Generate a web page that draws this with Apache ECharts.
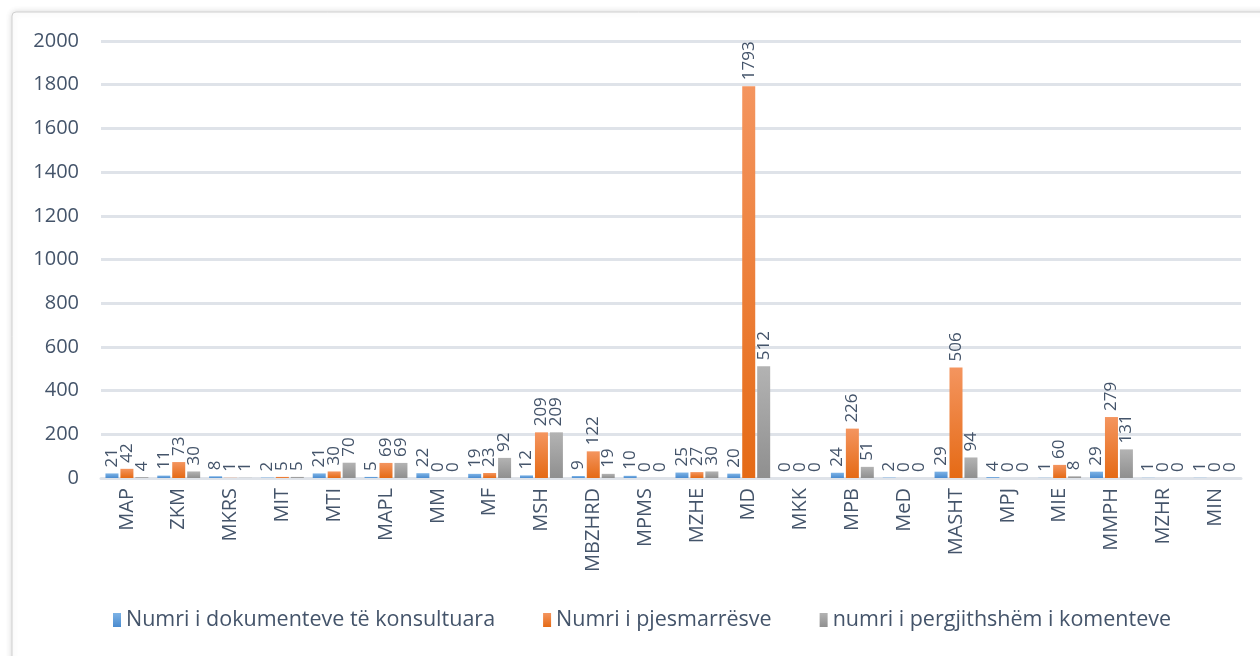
<!DOCTYPE html>
<html>
<head>
<meta charset="utf-8">
<script src="https://cdn.jsdelivr.net/npm/echarts@6/dist/echarts.min.js"></script>
<style>
  html, body { margin: 0; padding: 0; background: #fff; }
  #container { width: 1260px; height: 656px; }
</style>
</head>
<body>
<div id="container"></div>
<script>
// kategorite (ministrite)
var categories = ['MAP', 'ZKM', 'MKRS', 'MIT', 'MTI', 'MAPL', 'MM', 'MF', 'MSH', 'MBZHRD', 'MPMS',
    'MZHE', 'MD', 'MKK', 'MPB', 'MeD', 'MASHT', 'MPJ', 'MIE', 'MMPH', 'MZHR', 'MIN']

var dokumente = [21, 11, 8, 2, 21, 5, 22, 19, 12, 9, 10, 25, 20, 0, 24, 2, 29, 4, 1, 29, 1, 1]
var pjesmarres = [42, 73, 1, 5, 30, 69, 0, 23, 209, 122, 0, 27, 1793, 0, 226, 0, 506, 0, 60, 279, 0, 0]
var komente = [4, 30, 1, 5, 70, 69, 0, 92, 209, 19, 0, 30, 512, 0, 51, 0, 94, 0, 8, 131, 0, 0]

var seriesNames = ['Numri i dokumenteve të konsultuara', 'Numri i pjesmarrësve', 'numri i pergjithshëm i komenteve']

var textColor = '#44546a'
var font = "'Open Sans', 'Liberation Sans', sans-serif"

// gradient per seri
var grad = function (top, bottom) {
    return new echarts.graphic.LinearGradient(0, 0, 0, 1, [
        { offset: 0, color: top },
        { offset: 1, color: bottom },
    ])
}

var makeSeries = function (name, data, top, bottom) {
    return {
        name: name,
        type: 'bar',
        data: data,
        barWidth: 13,
        barGap: '15%',
        itemStyle: { color: grad(top, bottom) },
        label: {
            show: true,
            position: 'top',
            rotate: 90,
            align: 'left',
            verticalAlign: 'middle',
            distance: 6,
            color: textColor,
            fontSize: 17,
            fontFamily: font,
        },
    }
}

var myChart = echarts.init(document.getElementById('container'))

var option = {
    backgroundColor: '#fff',
    animation: false,
    graphic: [{
        type: 'rect',
        shape: { x: 12, y: 12, width: 1260, height: 660, r: 4 },
        style: { fill: '#fff', stroke: '#d0d0d0', lineWidth: 1, shadowBlur: 6, shadowColor: 'rgba(0,0,0,0.15)' },
        z: -10,
    }],
    grid: {
        left: 101,
        right: 19,
        top: 41,
        bottom: 178,
        containLabel: false,
    },
    legend: {
        bottom: 20,
        left: 108,
        itemWidth: 8,
        itemHeight: 14,
        itemGap: 48,
        icon: 'rect',
        textStyle: { color: textColor, fontSize: 21.5, fontFamily: font },
        data: seriesNames,
    },
    xAxis: {
        type: 'category',
        data: categories,
        axisLine: { show: true, lineStyle: { color: '#dfe3e9', width: 3 } },
        axisTick: { show: false },
        axisLabel: {
            rotate: 90,
            color: textColor,
            fontSize: 20,
            fontFamily: font,
            margin: 10,
            interval: 0,
        },
    },
    yAxis: {
        type: 'value',
        min: 0,
        max: 2000,
        interval: 200,
        axisLine: { show: false },
        axisTick: { show: false },
        splitLine: { lineStyle: { color: '#dfe3e9', width: 3 } },
        axisLabel: {
            color: textColor,
            fontSize: 20,
            fontFamily: font,
            margin: 22,
            formatter: function (v) { return String(v) },
        },
    },
    series: [
        makeSeries(seriesNames[0], dokumente, '#7db3e6', '#4a8bcf'),
        makeSeries(seriesNames[1], pjesmarres, '#f4955f', '#e56a15'),
        makeSeries(seriesNames[2], komente, '#b3b3b3', '#8f8f8f'),
    ],
}

myChart.setOption(option, true)
</script>
</body>
</html>
